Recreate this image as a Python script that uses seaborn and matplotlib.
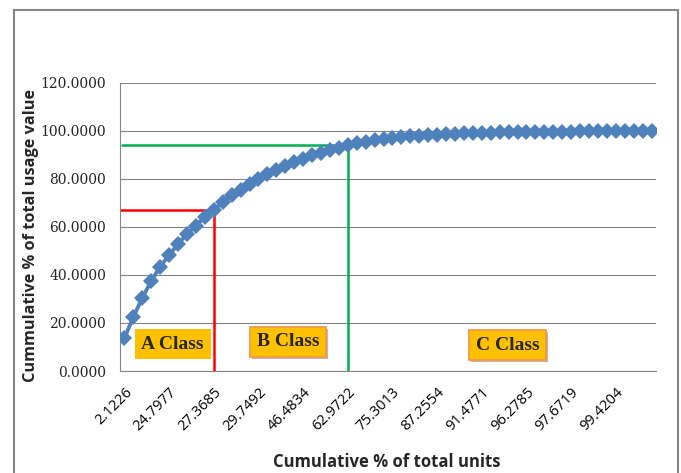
import numpy as np
import pandas as pd
import matplotlib
matplotlib.use("Agg")
import matplotlib.pyplot as plt
import matplotlib.patheffects as pe
from matplotlib.patches import Rectangle
from matplotlib.ticker import FormatStrFormatter
import seaborn as sns

# cumulative % of total usage value, one point per item
usage_cum = [13.8, 22.6, 30.4, 37.6, 43.5, 48.3, 53.0, 57.0, 60.6, 64.2,
             67.1, 70.4, 73.2, 75.6, 77.9, 80.1, 82.0, 83.9, 85.6, 87.1,
             88.5, 89.8, 91.0, 92.0, 93.0, 94.2, 94.9, 95.6, 96.2, 96.7,
             97.1, 97.5, 97.8, 98.1, 98.3, 98.5, 98.7, 98.9, 99.0, 99.1,
             99.2, 99.3, 99.4, 99.45, 99.5, 99.55, 99.6, 99.65, 99.7, 99.73,
             99.76, 99.8, 99.83, 99.86, 99.88, 99.9, 99.93, 99.95, 99.98, 100.0]

# category labels shown on the x axis (every 5th item)
tick_labels = ['2.1226', '24.7977', '27.3685', '29.7492', '46.4834', '62.9722',
               '75.3013', '87.2554', '91.4771', '96.2785', '97.6719', '99.4204']
tick_step = 5

# item index where the A / B classes end
a_cut = 10
b_cut = 25
class_names = ['A Class', 'B Class', 'C Class']

df = pd.DataFrame({'item': np.arange(len(usage_cum)), 'usage': usage_cum})

sns.set_style("white")
plt.rcParams['font.family'] = ['DejaVu Sans']

fig = plt.figure(figsize=(6.81, 4.73), dpi=100)
ax = fig.add_axes([120 / 681, 1 - 371 / 473, 536 / 681, 288 / 473])

grid_col = '#868686'
ax.set_ylim(0, 120)
ax.set_xlim(-0.5, len(usage_cum) - 0.5)
ax.set_yticks(np.arange(0, 121, 20))
ax.yaxis.set_major_formatter(FormatStrFormatter('%.4f'))
ax.grid(axis='y', color=grid_col, linewidth=0.8)
ax.set_axisbelow(True)

# class boundary lines
ax.plot([-0.5, a_cut, a_cut], [usage_cum[a_cut], usage_cum[a_cut], 0],
        color='#FF0000', linewidth=1.8, zorder=2)
ax.plot([-0.3, b_cut, b_cut], [usage_cum[b_cut], usage_cum[b_cut], 0],
        color='#00B050', linewidth=1.8, zorder=2)

sns.lineplot(data=df, x='item', y='usage', ax=ax, color='#4F81BD',
             linewidth=2.8, marker='D', markersize=8.5, markeredgewidth=0,
             zorder=3)

ax.set_xticks(np.arange(0, len(usage_cum), tick_step))
ax.set_xticklabels(tick_labels, rotation=45, ha='right', rotation_mode='anchor',
                   family='Open Sans', fontsize=10.5)
for lab in ax.get_yticklabels():
    lab.set_family('DejaVu Serif')
    lab.set_fontsize(10)
ax.tick_params(axis='x', length=0, pad=10, colors='black')
ax.tick_params(axis='y', length=4, width=0.8, color=grid_col, pad=6)

for side in ['top', 'right']:
    ax.spines[side].set_visible(False)
for side in ['left', 'bottom']:
    ax.spines[side].set_color(grid_col)
    ax.spines[side].set_linewidth(0.8)

ax.set_xlabel('Cumulative % of total units', family='Open Sans',
              fontweight='bold', fontsize=12)
ax.set_ylabel('Cummulative % of total usage value', family='Open Sans',
              fontweight='bold', fontsize=11.7)
ax.xaxis.set_label_coords(0.498, -0.285)
ax.yaxis.set_label_coords(-0.152, 0.469)

# class labels
label_pos = [(5.4, 11.2), (18.3, 12.1), (42.9, 10.8)]
for i, (name, (x, y)) in enumerate(zip(class_names, label_pos)):
    edge = 'none' if i == 0 else '#F79646'
    t = ax.text(x, y, name, ha='center', va='center', family='Liberation Serif',
                fontweight='bold', fontsize=14, zorder=5,
                bbox=dict(boxstyle='square,pad=0.35', facecolor='#FFC000',
                          edgecolor=edge, linewidth=1.3))
    if i > 0:
        t.get_bbox_patch().set_path_effects(
            [pe.withSimplePatchShadow(offset=(1.5, -1.5), alpha=0.35)])

# outer chart frame
fig.patches.append(Rectangle((14 / 681, -0.1), 664 / 681, 1.1 - 10 / 473,
                             transform=fig.transFigure, fill=False,
                             edgecolor=grid_col, linewidth=1.5))

fig.savefig('out.png', dpi=100)
